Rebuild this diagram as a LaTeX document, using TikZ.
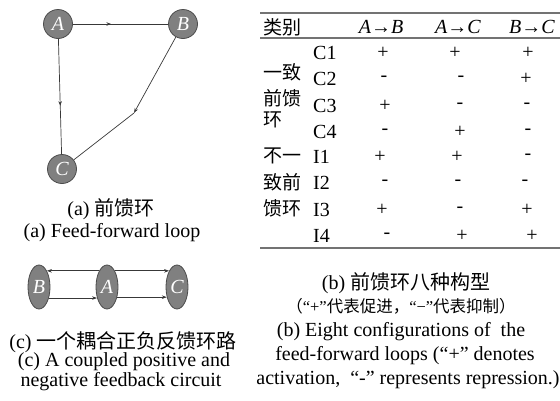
\documentclass[tikz,border=0pt]{standalone}
\usepackage{fontspec}
\setmainfont{Liberation Serif}
\newfontfamily\cjk{Noto Sans CJK SC}
\usetikzlibrary{shapes.geometric,decorations.markings,arrows.meta}
\definecolor{nodegray}{gray}{0.5}
\definecolor{nodeborder}{gray}{0.3}
\definecolor{linegray}{gray}{0.22}
\definecolor{rulegray}{gray}{0.45}
\begin{document}
\begin{tikzpicture}[x=1pt,y=-1pt,
  gnode/.style={circle,fill=nodegray,draw=nodeborder,line width=0.8pt,minimum size=29pt,inner sep=0pt,text=white,font=\fontsize{20}{20}\selectfont\itshape},
  enode/.style={ellipse,fill=nodegray,draw=nodeborder,line width=0.8pt,minimum width=22pt,minimum height=44pt,inner sep=0pt,text=white,font=\fontsize{20}{20}\selectfont\itshape},
  link/.style={draw=linegray,line width=0.7pt},
  midarrow/.style={postaction={decorate},decoration={markings,mark=at position #1 with {\arrow{Stealth[length=4.5pt,width=3.5pt]}}}},
  arr/.style={link,-{Stealth[length=5pt,width=3.5pt]}},
  captxt/.style={inner sep=0pt,font=\fontsize{20}{24}\selectfont},
  smalltxt/.style={inner sep=0pt,font=\fontsize{16.5}{20}\selectfont},
  cell/.style={inner sep=0pt,font=\fontsize{20}{22}\selectfont},
  grp/.style={inner sep=0pt,anchor=west,font=\fontsize{19}{22}\selectfont\cjk},
  rulestyle/.style={draw=rulegray,line width=1.1pt}
]
\useasboundingbox (0,0) rectangle (560,400);

% ---- panel (a) ----
\node[gnode] (A) at (58,24) {A};
\node[gnode] (B) at (183,24) {B};
\node[gnode] (C) at (62,169) {C};
\coordinate (K) at (134,113);
\draw[link,midarrow=0.4] (A) -- (B);
\draw[link,midarrow=0.58] (A) -- (C);
\draw[arr] (B) -- (K);
\draw[link] (K) -- (C);
\node[captxt] (capa1) at (111,209) {(a) {\cjk 前馈环}};
\node[captxt] (capa2) at (112,233) {(a) Feed-forward loop};

% ---- panel (c) ----
\node[enode] (cB) at (39,287) {B};
\node[enode] (cA) at (107,287) {A};
\node[enode] (cC) at (177,287) {C};
\draw[arr] (cA.116) -- (cB.64);
\draw[arr] (cB.-48) -- (cA.-132);
\draw[arr] (cA.64) -- (cC.116);
\draw[arr] (cA.-45) -- (cC.-135);
\node[captxt] (capc1) at (123,342) {(c) {\cjk 一个耦合正负反馈环路}};
\node[captxt] (capc2) at (124,362) {(c) A coupled positive and};
\node[captxt] (capc3) at (121,382) {negative feedback circuit};

% ---- panel (b) table ----
\draw[rulestyle] (260,13) -- (560,13);
\draw[rulestyle] (260,38) -- (560,38);
\draw[rulestyle] (260,248) -- (560,248);
\node[grp] (h0) at (263,27) {类别};
\node[cell] (h1) at (381,27) {\textit{A}→\textit{B}};
\node[cell] (h2) at (458,27) {\textit{A}→\textit{C}};
\node[cell] (h3) at (532,27) {\textit{B}→\textit{C}};
\foreach \lab/\y/\a/\ax/\b/\bx/\c/\cx in {
  C1/53/+/383/+/455/+/528,
  C2/79/-/384/-/461/+/526,
  C3/106/+/385/-/460/-/527,
  C4/132/-/385/+/460/-/528,
  I1/157/+/380/+/457/-/528,
  I2/183/-/385/-/458/-/525,
  I3/210/+/382/-/460/+/527,
  I4/236/-/387/+/462/+/532}
{
  \node[cell,anchor=west] (lab-\lab) at (313,\y) {\lab};
  \node[cell] (ab-\lab) at (\ax,\y) {\a};
  \node[cell] (ac-\lab) at (\bx,\y) {\b};
  \node[cell] (bc-\lab) at (\cx,\y) {\c};
}
\node[grp] (g1) at (263,72) {一致};
\node[grp] (g2) at (263,98) {前馈};
\node[grp] (g3) at (263,120) {环};
\node[grp] (g4) at (263,156) {不一};
\node[grp] (g5) at (263,182) {致前};
\node[grp] (g6) at (263,208) {馈环};

\node[captxt] (capb1) at (406,283) {(b) {\cjk 前馈环八种构型}};
\node[smalltxt] (capb2) at (401,306) {{\cjk （}“+”{\cjk 代表促进，}“−”{\cjk 代表抑制）}};
\node[captxt] (capb3) at (401,332) {(b) Eight configurations of~ the};
\node[captxt] (capb4) at (405,356) {feed-forward loops (“+” denotes};
\node[captxt] (capb5) at (408,380) {activation, ~“-” represents repression.)};
\end{tikzpicture}
\end{document}
